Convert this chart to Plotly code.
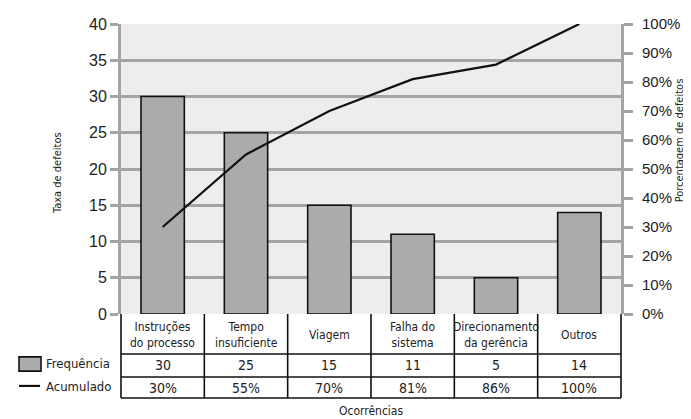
import plotly.graph_objects as go

categories = ["Instruções<br>do processo", "Tempo<br>insuficiente", "Viagem",
              "Falha do<br>sistema", "Direcionamento<br>da gerência", "Outros"]
frequencia = [30, 25, 15, 11, 5, 14]
acumulado = [30, 55, 70, 81, 86, 100]
left_ticks = [0, 5, 10, 15, 20, 25, 30, 35, 40]
right_ticks = [0, 10, 20, 30, 40, 50, 60, 70, 80, 90, 100]

NARROW = "DejaVu Sans Condensed, Liberation Sans Narrow, Arial Narrow, sans-serif"
SANS = "Liberation Sans, Arial, sans-serif"
GRID = "#a4a4a4"
TXT = "#222222"

xs = list(range(len(categories)))
n = len(categories)

fig = go.Figure()
fig.add_trace(go.Bar(x=xs, y=frequencia, width=0.52,
                     marker=dict(color="#ababab", line=dict(color="#111111", width=1.6)),
                     name="Frequência", showlegend=False))
fig.add_trace(go.Scatter(x=xs, y=acumulado, yaxis="y2", mode="lines",
                         line=dict(color="#111111", width=2.2),
                         name="Acumulado", showlegend=False))

shapes = []
annotations = []
row_y = [-0.007, -0.1379, -0.2172, -0.2897]
for k in range(n + 1):
    shapes.append(dict(type="line", xref="paper", yref="paper", x0=k / n, x1=k / n,
                       y0=0, y1=row_y[-1], line=dict(color="#111111", width=1.6)))
for yv in row_y[1:]:
    shapes.append(dict(type="line", xref="paper", yref="paper", x0=0, x1=1,
                       y0=yv, y1=yv, line=dict(color="#111111", width=1.6)))
for i, c in enumerate(categories):
    annotations.append(dict(x=i, xref="x", y=(row_y[0] + row_y[1]) / 2, yref="paper",
                            text=c, showarrow=False, font=dict(family=NARROW, size=12, color=TXT),
                            yanchor="middle"))
    annotations.append(dict(x=i, xref="x", y=(row_y[1] + row_y[2]) / 2, yref="paper",
                            text=str(frequencia[i]), showarrow=False,
                            font=dict(family=NARROW, size=14, color=TXT), yanchor="middle"))
    annotations.append(dict(x=i, xref="x", y=(row_y[2] + row_y[3]) / 2, yref="paper",
                            text=f"{acumulado[i]}%", showarrow=False,
                            font=dict(family=NARROW, size=14, color=TXT), yanchor="middle"))

# legend keys
shapes.append(dict(type="rect", xref="paper", yref="paper", x0=-0.204, x1=-0.160,
                   y0=-0.148, y1=-0.197, fillcolor="#ababab", line=dict(color="#111111", width=1.6)))
shapes.append(dict(type="line", xref="paper", yref="paper", x0=-0.204, x1=-0.162,
                   y0=-0.248, y1=-0.248, line=dict(color="#111111", width=2.2)))
annotations.append(dict(x=-0.154, xref="paper", y=-0.172, yref="paper", text="Frequência",
                        showarrow=False, xanchor="left", yanchor="middle",
                        font=dict(family=NARROW, size=13, color=TXT)))
annotations.append(dict(x=-0.154, xref="paper", y=-0.250, yref="paper", text="Acumulado",
                        showarrow=False, xanchor="left", yanchor="middle",
                        font=dict(family=NARROW, size=13, color=TXT)))
# titles
annotations.append(dict(x=0.5, xref="paper", y=-0.303, yref="paper", text="Ocorrências",
                        showarrow=False, yanchor="top", font=dict(family=NARROW, size=12, color=TXT)))
annotations.append(dict(x=-0.128, xref="paper", y=0.486, yref="paper", text="Taxa de defeitos",
                        textangle=-90, showarrow=False, xanchor="center", yanchor="middle",
                        font=dict(family=NARROW, size=11, color=TXT)))
annotations.append(dict(x=1.117, xref="paper", y=0.597, yref="paper", text="Porcentagem de defeitos",
                        textangle=-90, showarrow=False, xanchor="center", yanchor="middle",
                        font=dict(family=NARROW, size=11, color=TXT)))

fig.update_layout(
    width=683, height=411,
    margin=dict(l=113, r=70, t=16, b=105),
    paper_bgcolor="white", plot_bgcolor="#ededed",
    shapes=shapes, annotations=annotations,
    xaxis=dict(range=[-0.5, n - 0.5], showticklabels=False, showgrid=False, zeroline=False,
               ticks="", fixedrange=True, automargin=False),
    yaxis=dict(range=[0, 40], tickvals=left_ticks, showgrid=True, gridcolor=GRID, gridwidth=3,
               zeroline=False, showline=True, linecolor=GRID, linewidth=3, automargin=False,
               ticks="outside", ticklen=8, tickwidth=3, tickcolor=GRID,
               tickfont=dict(family=SANS, size=16, color=TXT)),
    yaxis2=dict(range=[0, 100], tickvals=right_ticks, ticktext=[f"{v}%" for v in right_ticks],
                overlaying="y", side="right", ticklabelstandoff=6, automargin=False,
                showgrid=False, zeroline=False, showline=True, linecolor=GRID, linewidth=3,
                ticks="outside", ticklen=9, tickwidth=3, tickcolor=GRID,
                tickfont=dict(family=SANS, size=15, color=TXT)),
)
fig.write_html("out.html")
